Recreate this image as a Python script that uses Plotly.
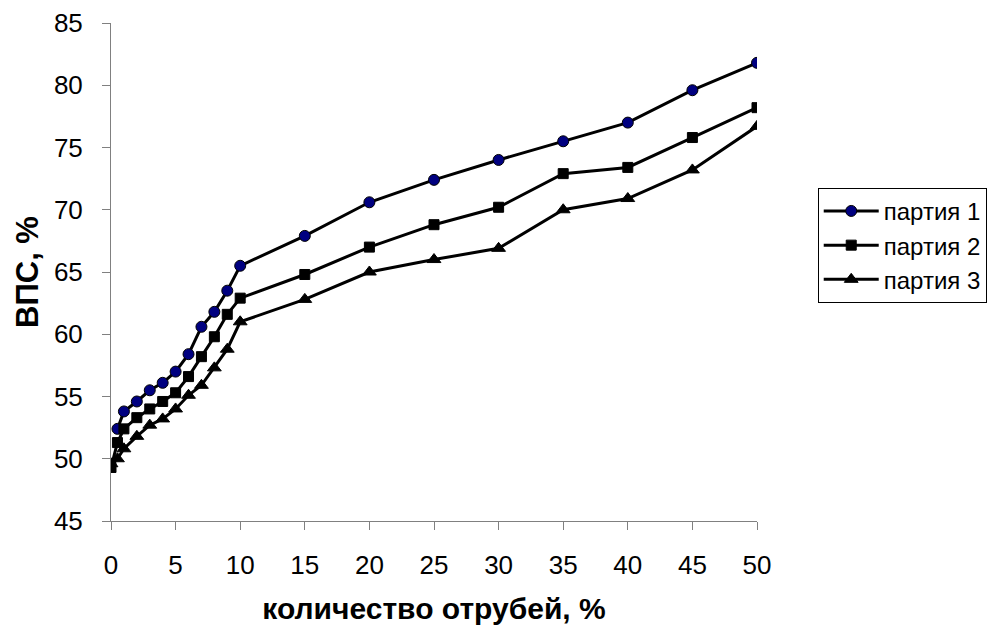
import plotly.graph_objects as go

x1 = [0.5, 1, 2, 3, 4, 5, 6, 7, 8, 9, 10, 15, 20, 25, 30, 35, 40, 45, 50]
y1 = [52.4, 53.8, 54.6, 55.5, 56.1, 57.0, 58.4, 60.6, 61.8, 63.5, 65.5, 67.9, 70.6, 72.4, 74.0, 75.5, 77.0, 79.6, 81.8]
x2 = [0, 0.5, 1, 2, 3, 4, 5, 6, 7, 8, 9, 10, 15, 20, 25, 30, 35, 40, 45, 50]
y2 = [49.3, 51.3, 52.4, 53.3, 54.0, 54.6, 55.3, 56.6, 58.2, 59.8, 61.6, 62.9, 64.8, 67.0, 68.8, 70.2, 72.9, 73.4, 75.8, 78.2]
x3 = [0, 0.5, 1, 2, 3, 4, 5, 6, 7, 8, 9, 10, 15, 20, 25, 30, 35, 40, 45, 50]
y3 = [49.6, 50.0, 50.8, 51.8, 52.7, 53.2, 54.0, 55.1, 55.9, 57.3, 58.8, 61.0, 62.8, 65.0, 66.0, 66.9, 70.0, 70.9, 73.2, 76.7]
names = ["партия 1", "партия 2", "партия 3"]

FONT = "Liberation Sans, Arial, sans-serif"

fig = go.Figure()
fig.add_trace(go.Scatter(x=x1, y=y1, name=names[0], mode="lines+markers",
                         line=dict(color="black", width=3),
                         marker=dict(symbol="circle", size=11, color="#000080",
                                     line=dict(color="black", width=1))))
fig.add_trace(go.Scatter(x=x2, y=y2, name=names[1], mode="lines+markers",
                         line=dict(color="black", width=3),
                         marker=dict(symbol="square", size=10, color="black",
                                     line=dict(color="black", width=1))))
fig.add_trace(go.Scatter(x=x3, y=y3, name=names[2], mode="lines+markers",
                         line=dict(color="black", width=3),
                         marker=dict(symbol="triangle-up", size=12, color="black",
                                     line=dict(color="black", width=1))))

fig.update_layout(
    width=1006, height=628,
    margin=dict(l=111, r=249, t=23, b=107),
    paper_bgcolor="white", plot_bgcolor="white",
    font=dict(family=FONT, size=26, color="black"),
    showlegend=True,
    legend=dict(x=1.094, y=0.669, xanchor="left", yanchor="top",
                bordercolor="black", borderwidth=1, bgcolor="white",
                font=dict(family=FONT, size=24, color="black"),
                tracegroupgap=0, itemwidth=55),
    xaxis=dict(range=[0, 50], tickmode="array", tickvals=list(range(0, 51, 5)),
               automargin=False,
               showgrid=False, zeroline=False, showline=True, linecolor="#808080",
               linewidth=1, ticks="outside", ticklen=8, tickcolor="#808080",
               ticklabelstandoff=13,
               tickfont=dict(family=FONT, size=26, color="black"),
               title=dict(text="<b>количество отрубей, %</b>", standoff=18,
                          font=dict(family=FONT, size=30, color="black"))),
    yaxis=dict(range=[45, 85], tickmode="array", tickvals=list(range(45, 86, 5)),
               automargin=False,
               showgrid=False, zeroline=False, showline=True, linecolor="#808080",
               linewidth=1, ticks="outside", ticklen=8, tickcolor="#808080",
               ticklabelstandoff=14,
               tickfont=dict(family=FONT, size=26, color="black"),
               title=dict(text="<b>ВПС, %</b>", standoff=6,
                          font=dict(family=FONT, size=31, color="black"))),
)

fig.write_html("out.html")
